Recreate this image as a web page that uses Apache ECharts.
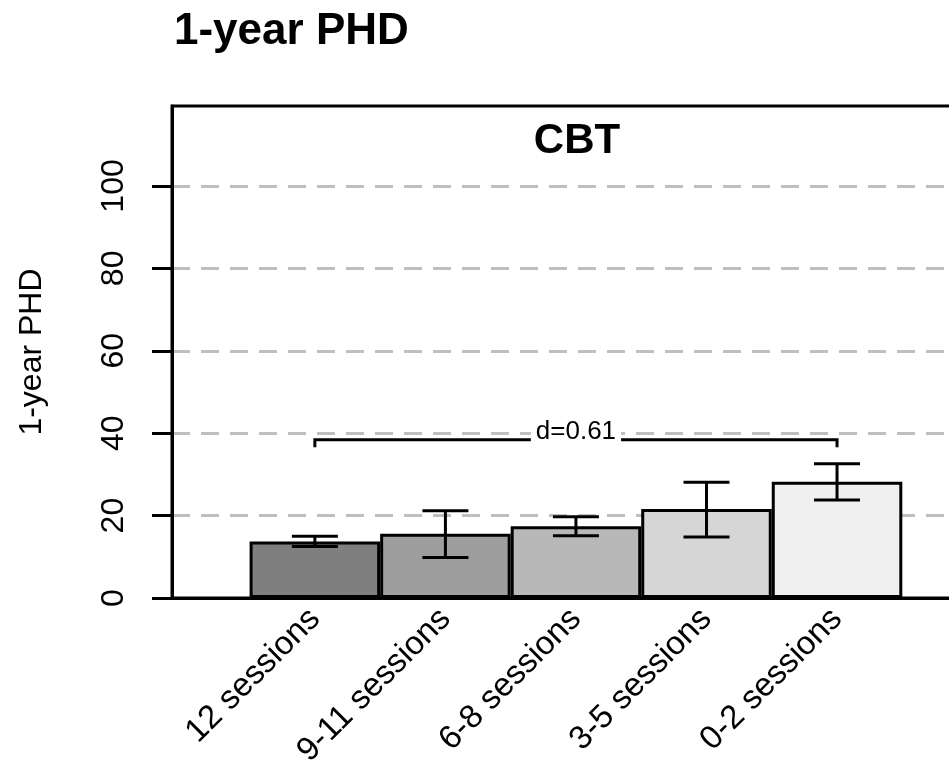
<!DOCTYPE html>
<html>
<head>
<meta charset="utf-8">
<script src="https://cdn.jsdelivr.net/npm/echarts@6/dist/echarts.min.js"></script>
<style>
  html, body { margin: 0; padding: 0; background: #fff; }
</style>
</head>
<body>
<div id="PhdBar" style="width: 949px; height: 767px;"></div>
<script>
const categories = ['12 sessions', '9-11 sessions', '6-8 sessions', '3-5 sessions', '0-2 sessions']
const means = [13.7, 15.6, 17.4, 21.6, 28.2]
const lower = [12.5, 9.8, 15.1, 14.8, 23.8]
const upper = [15.0, 21.2, 19.7, 28.1, 32.6]
const barColors = ['#7f7f7f', '#9e9e9e', '#b8b8b8', '#d6d6d6', '#f0f0f0']
const yTicks = [0, 20, 40, 60, 80, 100]

// bracket comparing first and last group
const bracketFrom = 0
const bracketTo = 4
const bracketLevel = 38.4
const bracketFoot = 36.6
const bracketLabel = 'd=0.61'
const bracketLabelLevel = 40.3

const yMax = 119.4
const FONT = '"Liberation Sans", Arial, sans-serif'

const chart = echarts.init(document.getElementById('PhdBar'))

const option = {
  animation: false,
  textStyle: { fontFamily: FONT, color: '#000' },
  title: {
    text: '1-year PHD',
    left: 169,
    top: 5,
    textStyle: { fontFamily: FONT, fontSize: 44, fontWeight: 'bold', color: '#000' }
  },
  graphic: [{
    type: 'text',
    x: 577,
    y: 120,
    style: {
      text: 'CBT',
      textAlign: 'center',
      fontFamily: FONT,
      fontSize: 42,
      fontWeight: 'bold',
      fill: '#000'
    }
  }],
  grid: [
    // frame + gridlines, runs past the right edge like the original
    { left: 172, right: -32, top: 106, bottom: 169, outerBoundsMode: 'none', show: true, borderColor: '#000', borderWidth: 3, backgroundColor: 'transparent' },
    // bars
    { left: 249.6, right: 46.7, top: 106, bottom: 169, outerBoundsMode: 'none' }
  ],
  xAxis: [
    {
      gridIndex: 0,
      type: 'value',
      min: 0,
      max: 1,
      z: 10,
      axisLine: { show: true, onZero: false, lineStyle: { color: '#000', width: 3 } },
      axisTick: { show: false },
      axisLabel: { show: false },
      splitLine: { show: false }
    },
    {
      gridIndex: 1,
      type: 'category',
      data: categories,
      axisLine: { show: false },
      axisTick: { show: false },
      axisLabel: {
        rotate: 45,
        margin: 16,
        interval: 0,
        fontSize: 33,
        fontFamily: FONT,
        color: '#000'
      }
    }
  ],
  yAxis: [
    {
      gridIndex: 0,
      type: 'value',
      min: 0,
      max: yMax,
      interval: 20,
      name: '1-year PHD',
      nameLocation: 'middle',
      nameRotate: 90,
      nameGap: 124,
      nameTextStyle: { fontSize: 32, fontFamily: FONT, color: '#000' },
      axisLine: { show: true, lineStyle: { color: '#000', width: 3 } },
      axisTick: { show: true, length: 20, lineStyle: { color: '#000', width: 3 }, customValues: yTicks },
      axisLabel: { rotate: 90, margin: 42, fontSize: 32, fontFamily: FONT, color: '#000', customValues: yTicks },
      splitLine: {
        show: true,
        lineStyle: { color: '#bfbfbf', width: 3, type: [18, 11] }
      }
    },
    { gridIndex: 1, type: 'value', min: 0, max: yMax, show: false, splitLine: { show: false } }
  ],
  series: [
    {
      type: 'bar',
      xAxisIndex: 1,
      yAxisIndex: 1,
      barCategoryGap: '0%',
      data: means.map((v, i) => ({
        value: v,
        itemStyle: { color: barColors[i], borderColor: '#000', borderWidth: 3 }
      })),
      z: 2
    },
    {
      type: 'custom',
      xAxisIndex: 1,
      yAxisIndex: 1,
      z: 3,
      data: categories.map((c, i) => [i, lower[i], upper[i]]),
      renderItem (params, api) {
        const lo = api.coord([api.value(0), api.value(1)])
        const hi = api.coord([api.value(0), api.value(2)])
        const half = 23
        const style = { stroke: '#000', lineWidth: 3, fill: null }
        return {
          type: 'group',
          children: [
            { type: 'line', shape: { x1: hi[0], y1: hi[1], x2: lo[0], y2: lo[1] }, style },
            { type: 'line', shape: { x1: hi[0] - half, y1: hi[1], x2: hi[0] + half, y2: hi[1] }, style },
            { type: 'line', shape: { x1: lo[0] - half, y1: lo[1], x2: lo[0] + half, y2: lo[1] }, style }
          ]
        }
      }
    },
    {
      type: 'custom',
      xAxisIndex: 1,
      yAxisIndex: 1,
      z: 4,
      data: [[bracketFrom, bracketTo, bracketLevel, bracketFoot, bracketLabelLevel]],
      renderItem (params, api) {
        const a = api.coord([api.value(0), api.value(2)])
        const b = api.coord([api.value(1), api.value(2)])
        const aFoot = api.coord([api.value(0), api.value(3)])
        const bFoot = api.coord([api.value(1), api.value(3)])
        const mid = api.coord([(api.value(0) + api.value(1)) / 2, api.value(4)])
        const style = { stroke: '#000', lineWidth: 3, fill: null }
        return {
          type: 'group',
          children: [
            { type: 'polyline', shape: { points: [aFoot, a, b, bFoot] }, style },
            {
              type: 'text',
              x: mid[0],
              y: mid[1],
              style: {
                text: bracketLabel,
                textAlign: 'center',
                textVerticalAlign: 'middle',
                fontFamily: FONT,
                fontSize: 26,
                fill: '#000',
                backgroundColor: '#fff',
                padding: [4, 5, 4, 5]
              }
            }
          ]
        }
      }
    }
  ]
}

chart.setOption(option)
</script>
</body>
</html>
